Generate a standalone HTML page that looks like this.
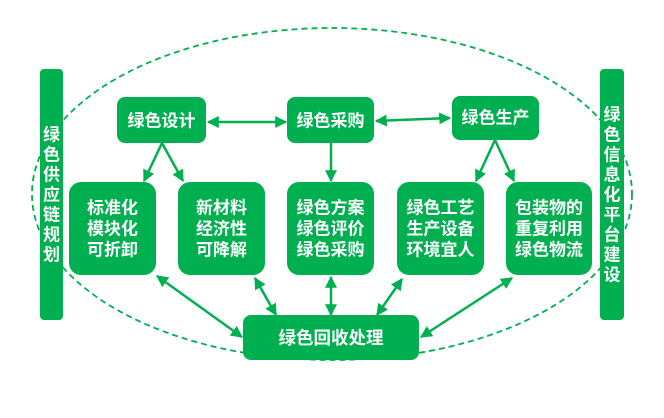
<!DOCTYPE html>
<html>
<head>
<meta charset="utf-8">
<style>
html,body{margin:0;padding:0;background:#fff;}
svg{display:block;}
text{font-family:"Liberation Sans","Noto Sans CJK SC",sans-serif;font-weight:bold;fill:#fff;}
</style>
</head>
<body>
<svg width="664" height="418" viewBox="0 0 664 418" xmlns="http://www.w3.org/2000/svg">
<defs>
<marker id="ah" markerUnits="userSpaceOnUse" markerWidth="12" markerHeight="12" viewBox="0 0 10 10" refX="9" refY="5" orient="auto-start-reverse">
<path d="M0,0 L10,5 L0,10 z" fill="#00B050"/>
</marker>
</defs>

<!-- dashed ellipse -->
<ellipse cx="332" cy="194" rx="300" ry="166" fill="none" stroke="#00B050" stroke-width="1.8" stroke-dasharray="6,4"/>

<!-- side bars -->
<rect x="40" y="69" width="23" height="251" rx="4" fill="#00B050"/>
<rect x="600" y="69" width="24" height="251" rx="4" fill="#00B050"/>

<g font-size="17" text-anchor="middle" dominant-baseline="central">
<text x="51.5" y="135">绿</text>
<text x="51.5" y="155">色</text>
<text x="51.5" y="175">供</text>
<text x="51.5" y="195">应</text>
<text x="51.5" y="215">链</text>
<text x="51.5" y="235">规</text>
<text x="51.5" y="255">划</text>

<text x="612" y="115">绿</text>
<text x="612" y="135">色</text>
<text x="612" y="155">信</text>
<text x="612" y="175">息</text>
<text x="612" y="195">化</text>
<text x="612" y="215">平</text>
<text x="612" y="235">台</text>
<text x="612" y="255">建</text>
<text x="612" y="275">设</text>
</g>

<!-- arrows -->
<g stroke="#00B050" stroke-width="2.5" fill="none">
<line x1="208" y1="122" x2="286" y2="122" marker-start="url(#ah)" marker-end="url(#ah)"/>
<line x1="376" y1="121" x2="450" y2="118" marker-start="url(#ah)" marker-end="url(#ah)"/>
<line x1="331" y1="143" x2="331" y2="181" marker-end="url(#ah)"/>
<line x1="162" y1="143" x2="144" y2="181" marker-end="url(#ah)"/>
<line x1="162" y1="143" x2="183" y2="181" marker-end="url(#ah)"/>
<line x1="495" y1="140" x2="476" y2="181" marker-end="url(#ah)"/>
<line x1="495" y1="140" x2="514" y2="181" marker-end="url(#ah)"/>
<line x1="157" y1="276" x2="242" y2="337" marker-start="url(#ah)" marker-end="url(#ah)"/>
<line x1="255" y1="278" x2="276" y2="315" marker-start="url(#ah)" marker-end="url(#ah)"/>
<line x1="331" y1="277" x2="331" y2="315" marker-start="url(#ah)" marker-end="url(#ah)"/>
<line x1="402" y1="279" x2="377" y2="315" marker-start="url(#ah)" marker-end="url(#ah)"/>
<line x1="512" y1="278" x2="421" y2="337" marker-start="url(#ah)" marker-end="url(#ah)"/>
</g>

<!-- top boxes -->
<rect x="117" y="97" width="89" height="46" rx="8" fill="#00B050"/>
<rect x="287" y="97" width="87" height="46" rx="8" fill="#00B050"/>
<rect x="452" y="96" width="87" height="44" rx="8" fill="#00B050"/>

<!-- middle boxes -->
<rect x="69" y="182" width="87" height="93" rx="12" fill="#00B050"/>
<rect x="178" y="182" width="87" height="93" rx="12" fill="#00B050"/>
<rect x="287" y="182" width="87" height="93" rx="12" fill="#00B050"/>
<rect x="397" y="182" width="87" height="93" rx="12" fill="#00B050"/>
<rect x="506" y="182" width="86" height="93" rx="12" fill="#00B050"/>

<!-- bottom box -->
<rect x="243" y="315" width="176" height="45" rx="8" fill="#00B050"/>

<g font-size="17" text-anchor="middle" dominant-baseline="central">
<text x="161.5" y="121">绿色设计</text>
<text x="330.5" y="121">绿色采购</text>
<text x="495.5" y="118">绿色生产</text>

<text x="112.5" y="208">标准化</text>
<text x="112.5" y="229">模块化</text>
<text x="112.5" y="250">可折卸</text>

<text x="221.5" y="208">新材料</text>
<text x="221.5" y="229">经济性</text>
<text x="221.5" y="250">可降解</text>

<text x="330.5" y="208">绿色方案</text>
<text x="330.5" y="229">绿色评价</text>
<text x="330.5" y="250">绿色采购</text>

<text x="440.5" y="208">绿色工艺</text>
<text x="440.5" y="229">生产设备</text>
<text x="440.5" y="250">环境宜人</text>

<text x="549" y="208">包装物的</text>
<text x="549" y="229">重复利用</text>
<text x="549" y="250">绿色物流</text>

<text x="331" y="338" font-size="17.5">绿色回收处理</text>
</g>
</svg>
</body>
</html>
